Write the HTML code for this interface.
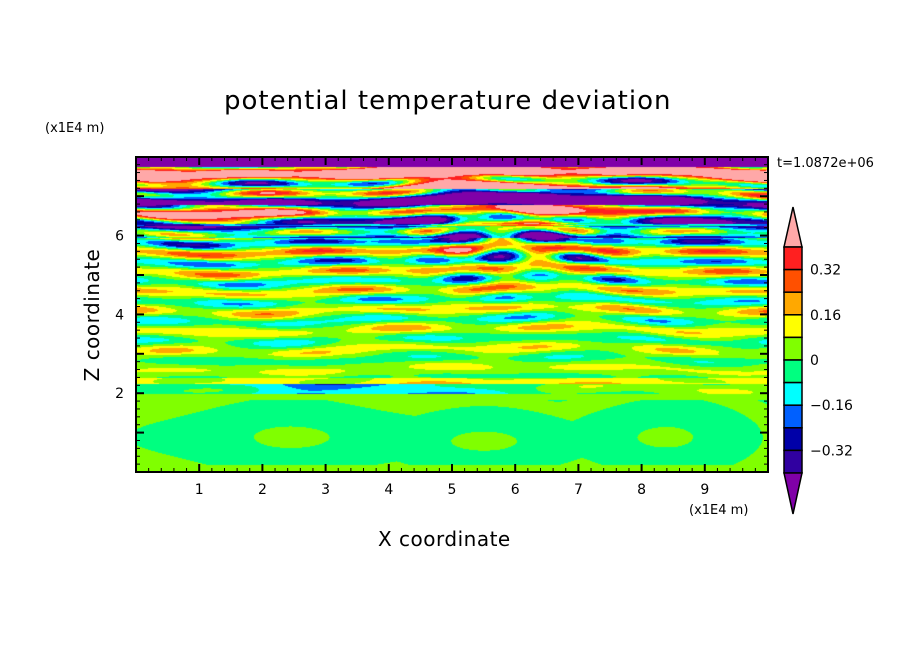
<!DOCTYPE html>
<html><head><meta charset="utf-8"><style>
body{margin:0;background:#fff;width:904px;height:654px;overflow:hidden;position:relative;font-family:"DejaVu Sans","Liberation Sans",sans-serif;}
.t{position:absolute;color:#000;white-space:nowrap;}
canvas{position:absolute;left:136px;top:157px;}
svg{position:absolute;left:0;top:0;}
</style></head><body>
<canvas id="c" width="632" height="315"></canvas>
<svg width="904" height="654" id="s"></svg>
<div class="t" style="left:224px;top:86px;font-size:26px;letter-spacing:1px;">potential temperature deviation</div>
<div class="t" style="left:45px;top:121px;font-size:13px;">(x1E4 m)</div>
<div class="t" style="left:777px;top:156px;font-size:13px;">t=1.0872e+06</div>
<div class="t" style="left:689px;top:503px;font-size:13px;">(x1E4 m)</div>
<div class="t" style="left:378px;top:527px;font-size:20px;letter-spacing:0.5px;">X coordinate</div>
<div class="t" style="left:92px;top:315px;font-size:20px;letter-spacing:0.5px;transform:translate(-50%,-50%) rotate(-90deg);">Z coordinate</div>
<script>
var cols=["#8000a8","#3000a0","#0000a8","#0060ff","#00ffff","#00ff80","#80ff00","#ffff00","#ffa800","#ff5000","#ff2020","#ffa8a8"];
function q(f){var i=Math.floor(f/0.08)+6;if(i<0)i=0;if(i>11)i=11;return i;}
function rgb(h){return[parseInt(h.substr(1,2),16),parseInt(h.substr(3,2),16),parseInt(h.substr(5,2),16)];}
var C=cols.map(rgb);
var cv=document.getElementById('c'),ctx=cv.getContext('2d'),W=632,H=315,img=ctx.createImageData(W,H),d=img.data;
for(var py=0;py<H;py++){for(var px=0;px<W;px++){
var x=px/63.2,z=8-py/39.4,f;
if(z<2.0){
 var r1=Math.hypot((x-2.5)/2.2,(z-0.9)/0.8),r2=Math.hypot((x-5.5)/1.8,(z-0.8)/0.7),r3=Math.hypot((x-8.3)/1.5,(z-0.9)/0.8);
 var r=Math.min(r1,r2,r3);
 f=-0.02+0.04*Math.cos(4.5*r+0.5*Math.sin(2*x));
 if(z<0.2||z>1.85)f=0.02;
}else{
 var A=0.05+0.06*(z-2)+(z>5?0.1*(z-5):0);
 var ph=2*Math.PI*z/0.5+0.9*Math.sin(0.7*x+0.5)+0.5*Math.sin(1.9*x+z);
 f=0.03+A*Math.sin(ph)*(0.7+0.3*Math.sin(3.1*x+2*z));
 var w=Math.exp(-Math.pow((x-6)/1.6,2))*Math.exp(-Math.pow((z-5.8)/1.0,2));
 f+=0.3*w*Math.sin(5*x+1)*Math.sin(6*z);
 f+=0.05*Math.sin(2.4*x-4*z)*(z>3&&z<5?1:0.5);
 if(z>2.0&&z<2.25)f-=0.22*Math.exp(-Math.pow((x-3.5)/2.5,2));
 if(z>2.25&&z<2.4)f+=0.1;
 if(z>7.75)f=-0.6+0.2*Math.sin(1.3*x);
 else if(z>7.2)f+=0.35+0.25*Math.sin(1.1*x+2*z);
 else if(z>6.8)f+=-0.35+0.2*Math.sin(0.9*x-1);
 else if(z>6.3)f+=0.25*Math.sin(1.2*x);
 else if(z>5.95&&z<6.25)f+=-0.25;
}
var c=C[q(f)],k=(py*W+px)*4;d[k]=c[0];d[k+1]=c[1];d[k+2]=c[2];d[k+3]=255;}}
ctx.putImageData(img,0,0);
var s='';
var L=136,R=768,T=157,B=472;
s+='<rect x="'+L+'" y="'+T+'" width="'+(R-L)+'" height="'+(B-T)+'" fill="none" stroke="#000" stroke-width="2"/>';
for(var i=1;i<50;i++){var x=L+i*12.64,len=i%5==0?8:4;s+='<line x1="'+x+'" y1="'+B+'" x2="'+x+'" y2="'+(B-len)+'" stroke="#000" stroke-width="'+(i%5==0?2:1)+'"/><line x1="'+x+'" y1="'+T+'" x2="'+x+'" y2="'+(T+len)+'" stroke="#000" stroke-width="'+(i%5==0?2:1)+'"/>';
 if(i%5==0)s+='<text x="'+x+'" y="'+(B+22)+'" font-size="14" text-anchor="middle" font-family="DejaVu Sans,sans-serif">'+(i/5)+'</text>';}
for(var j=1;j<40;j++){var y=B-j*7.88,len=j%5==0?8:4;s+='<line x1="'+L+'" y1="'+y+'" x2="'+(L+len)+'" y2="'+y+'" stroke="#000" stroke-width="'+(j%5==0?2:1)+'"/><line x1="'+R+'" y1="'+y+'" x2="'+(R-len)+'" y2="'+y+'" stroke="#000" stroke-width="'+(j%5==0?2:1)+'"/>';
 if(j%10==0)s+='<text x="'+(L-12)+'" y="'+(y+5)+'" font-size="14" text-anchor="end" font-family="DejaVu Sans,sans-serif">'+(j/5)+'</text>';}
var bx=784,bw=18,bt=247,bh=22.6;
s+='<polygon points="'+bx+','+bt+' '+(bx+bw)+','+bt+' '+(bx+bw/2)+',207" fill="'+cols[11]+'" stroke="#000" stroke-width="1.5"/>';
for(var i=0;i<10;i++){s+='<rect x="'+bx+'" y="'+(bt+i*bh)+'" width="'+bw+'" height="'+bh+'" fill="'+cols[10-i]+'" stroke="#000" stroke-width="1.5"/>';}
var bb=bt+10*bh;
s+='<polygon points="'+bx+','+bb+' '+(bx+bw)+','+bb+' '+(bx+bw/2)+',514" fill="'+cols[0]+'" stroke="#000" stroke-width="1.5"/>';
var labs=["0.32","0.16","0","\u22120.16","\u22120.32"];
for(var i=0;i<5;i++){s+='<text x="810" y="'+(bt+(2*i+1)*bh+5)+'" font-size="14" font-family="DejaVu Sans,sans-serif">'+labs[i]+'</text>';}
document.getElementById('s').innerHTML=s;
</script>
</body></html>
